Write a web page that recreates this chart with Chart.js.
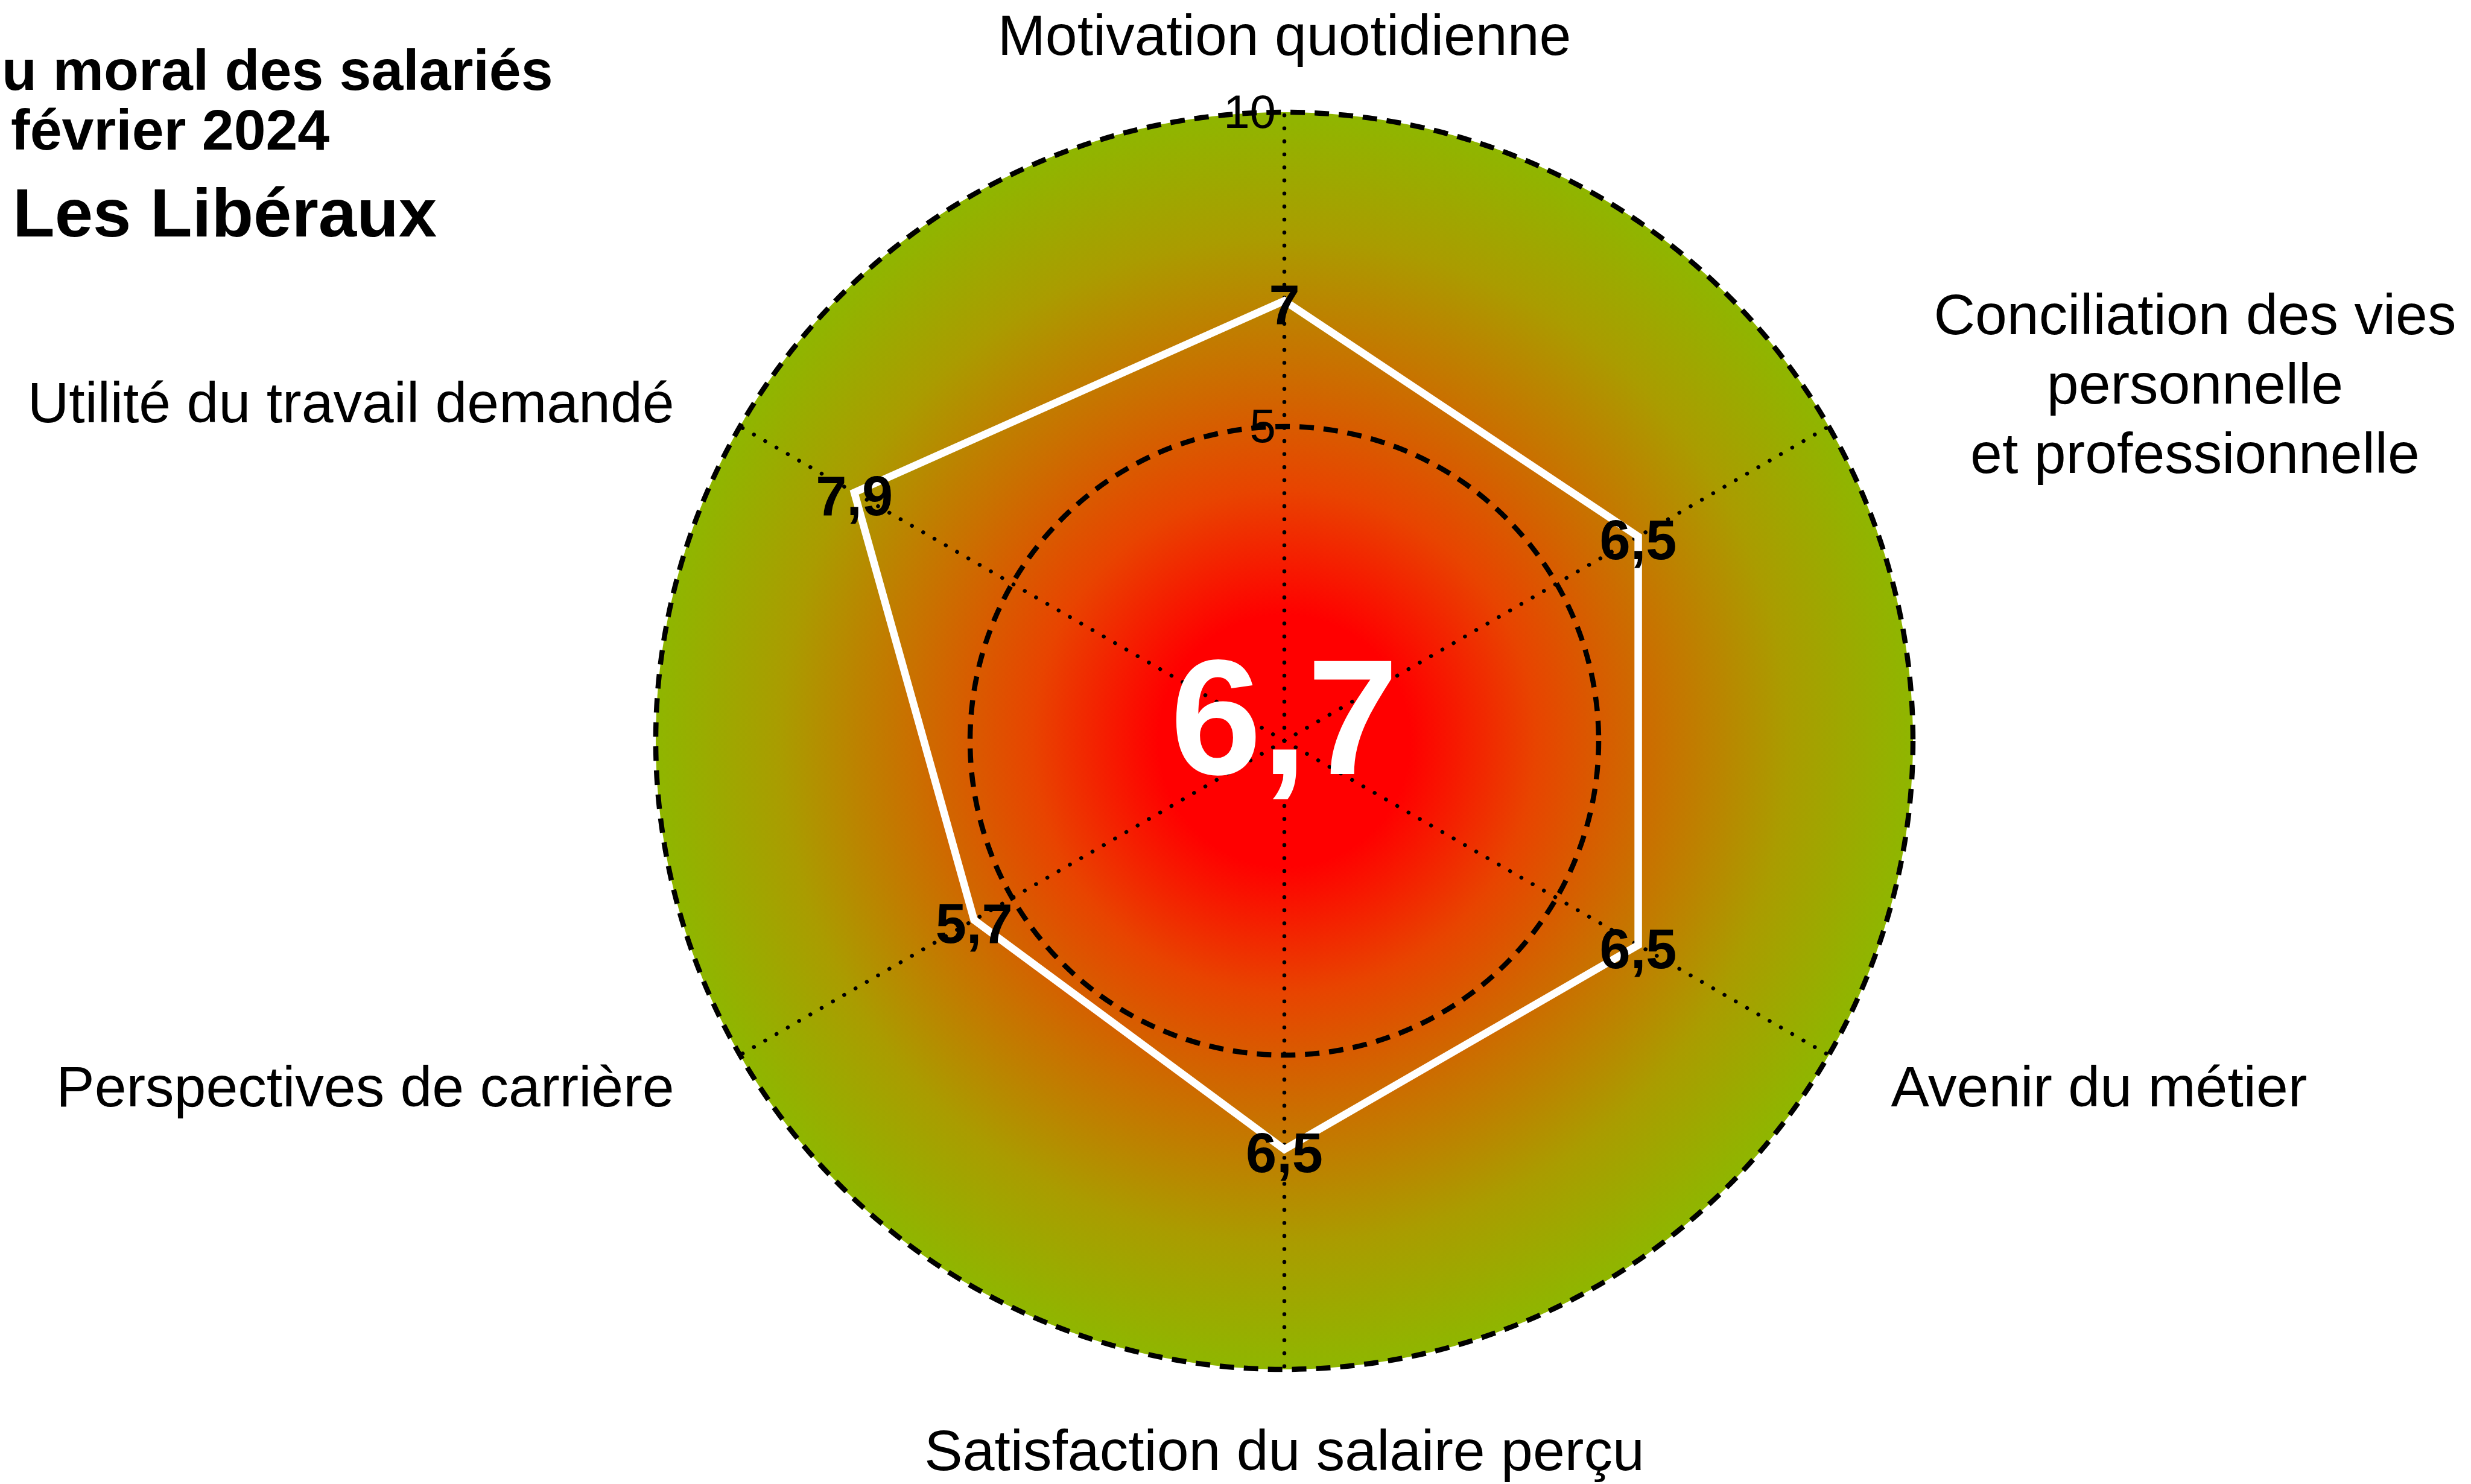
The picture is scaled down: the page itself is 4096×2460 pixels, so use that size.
<!DOCTYPE html>
<html lang="fr">
<head>
<meta charset="utf-8">
<title>Baromètre du moral des salariés — Les Libéraux</title>
<script src="https://cdn.jsdelivr.net/npm/chart.js@4"></script>
<style>
  html, body { margin: 0; padding: 0; background: #fff; }
  canvas { display: block; }
</style>
</head>
<body>
<canvas id="chart" width="4096" height="2460"></canvas>
<script>
const categories = [
  'Motivation quotidienne',
  ['Conciliation des vies', 'personnelle', 'et professionnelle'],
  'Avenir du métier',
  'Satisfaction du salaire perçu',
  'Perspectives de carrière',
  'Utilité du travail demandé',
];
const scores = [7, 6.5, 6.5, 6.5, 5.7, 7.9];
const tickValues = [5, 10];
const overallScore = 6.7;
const titleLines = ['u moral des salariés', 'février 2024'];
const subtitle = 'Les Libéraux';

const FONT = '"Liberation Sans", Arial, Helvetica, sans-serif';
const frNum = (v) => String(v).replace('.', ',');

// where each category name sits, relative to the tip of its spoke
const labelPlacement = [
  { dx: 0, dy: -95, align: 'center' },
  { dx: 607, dy: -153, align: 'center' },
  { dx: 103, dy: 85, align: 'left' },
  { dx: 0, dy: 167, align: 'center' },
  { dx: -109, dy: 85, align: 'right' },
  { dx: -109, dy: -7, align: 'right' },
];

const radarDecor = {
  id: 'radarDecor',
  beforeDraw(chart) {
    const r = chart.scales.r;
    const ctx = chart.ctx;
    const g = ctx.createRadialGradient(r.xCenter, r.yCenter, 0, r.xCenter, r.yCenter, r.drawingArea);
    g.addColorStop(0, '#ff0000');
    g.addColorStop(0.2, '#ff0000');
    g.addColorStop(0.4, '#e84400');
    g.addColorStop(0.6, '#c97100');
    g.addColorStop(0.8, '#aa9c00');
    g.addColorStop(1, '#8fb600');
    ctx.save();
    ctx.fillStyle = g;
    ctx.beginPath();
    ctx.arc(r.xCenter, r.yCenter, r.drawingArea, 0, Math.PI * 2);
    ctx.fill();
    ctx.restore();
  },
  afterDraw(chart) {
    const r = chart.scales.r;
    const ctx = chart.ctx;
    const meta = chart.getDatasetMeta(0);
    ctx.save();

    // scale values along the top spoke
    ctx.fillStyle = '#000';
    ctx.font = `78px ${FONT}`;
    ctx.textAlign = 'right';
    ctx.textBaseline = 'middle';
    tickValues.forEach((v) => {
      ctx.fillText(String(v), r.xCenter - 14, r.yCenter - r.getDistanceFromCenterForValue(v) + 4);
    });

    // category names
    ctx.font = `95px ${FONT}`;
    ctx.textBaseline = 'alphabetic';
    categories.forEach((name, i) => {
      const tip = r.getPointPosition(i, r.drawingArea);
      const p = labelPlacement[i];
      ctx.textAlign = p.align;
      [].concat(name).forEach((line, k) => {
        ctx.fillText(line, tip.x + p.dx, tip.y + p.dy + k * 115);
      });
    });

    // values on the polygon
    ctx.font = `bold 92px ${FONT}`;
    ctx.textAlign = 'center';
    meta.data.forEach((pt, i) => {
      ctx.fillText(frNum(scores[i]), pt.x, pt.y + 38);
    });

    // overall score in the middle
    ctx.fillStyle = '#fff';
    ctx.font = `bold 272px ${FONT}`;
    ctx.fillText(frNum(overallScore), r.xCenter, r.yCenter + 55);

    // title block
    ctx.fillStyle = '#000';
    ctx.textAlign = 'left';
    ctx.font = `bold 95px ${FONT}`;
    ctx.fillText(titleLines[0], 3, 149);
    ctx.fillText(titleLines[1], 18, 248);
    ctx.font = `bold 114px ${FONT}`;
    ctx.fillText(subtitle, 21, 392);

    ctx.restore();
  },
};

const chart = new Chart(document.getElementById('chart'), {
  type: 'radar',
  data: {
    labels: categories,
    datasets: [{
      data: scores,
      borderColor: '#fff',
      borderWidth: 12.5,
      borderJoinStyle: 'miter',
      fill: false,
      pointRadius: 0,
      pointHoverRadius: 0,
      tension: 0,
    }],
  },
  options: {
    responsive: false,
    animation: false,
    devicePixelRatio: 1,
    layout: { padding: { left: 1087, right: 925, top: 186, bottom: 190 } },
    plugins: {
      legend: { display: false },
      tooltip: { enabled: false },
    },
    scales: {
      r: {
        min: 0,
        max: 10,
        ticks: { stepSize: 5, display: false },
        grid: { circular: true, color: '#000', lineWidth: 8.5 },
        border: { dash: [24, 16] },
        angleLines: {
          // round caps turn the dash into dots
          color: (c) => { c.chart.ctx.lineCap = 'round'; return '#000'; },
          lineWidth: 6.5,
          borderDash: [0.1, 21.5],
        },
        pointLabels: { display: false },
      },
    },
  },
  plugins: [radarDecor],
});
</script>
</body>
</html>
